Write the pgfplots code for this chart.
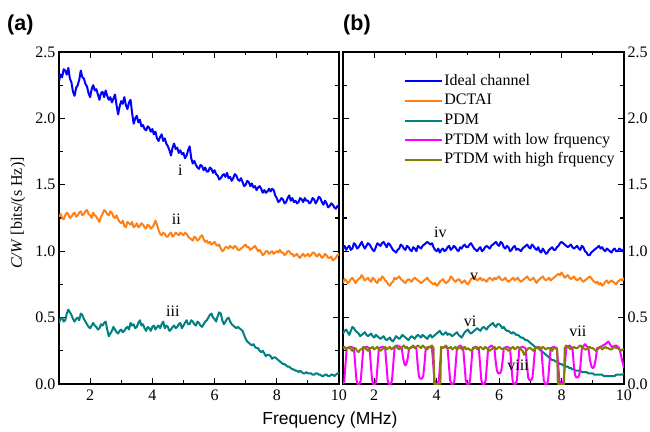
\documentclass[border=0pt]{standalone}
\usepackage{fontspec}
\setmainfont{Liberation Serif}
\newfontfamily\arial{Liberation Sans}
\usepackage{pgfplots}
\pgfplotsset{compat=1.18}

\definecolor{cblue}{RGB}{0,0,255}
\definecolor{corange}{RGB}{255,128,20}
\definecolor{cteal}{RGB}{0,128,128}
\definecolor{cpink}{RGB}{255,0,255}
\definecolor{colive}{RGB}{128,128,0}

\newcommand{\tf}{\rmfamily\fontsize{16}{19}\selectfont}

\pgfplotsset{
  panel/.style={
    scale only axis, height=332pt,
    xmin=1, xmax=10, ymin=0, ymax=2.5,
    xtick={2,4,6,8,10}, minor x tick num=1,
    ytick={0,0.5,1,1.5,2,2.5}, minor y tick num=1,
    tick align=inside, major tick length=6pt, minor tick length=3.5pt,
    axis line style={line width=1.5pt},
    every tick/.style={black, line width=1.2pt},
    tick label style={font=\tf},
    xticklabel={\rmfamily\pgfmathprintnumber[assume math mode=true]{\tick}},
    yticklabel={\rmfamily\pgfmathprintnumber[assume math mode=true,fixed,fixed zerofill,precision=1]{\tick}},
    xticklabel style={yshift=-2pt},
    every axis plot/.append style={line width=2pt, line join=round},
  },
}
\tikzset{lab/.style={anchor=base, font=\tf}}

\begin{document}
\begin{tikzpicture}
\path[use as bounding box] (0,0) rectangle (650pt,431pt);

% panel (a)
\begin{axis}[panel, at={(59pt,47pt)}, anchor=south west, width=280pt]
\addplot[cblue] coordinates {
(1.0,2.28) (1.05,2.33) (1.1,2.31) (1.15,2.37) (1.2,2.36) (1.25,2.33) (1.3,2.38) (1.35,2.30) (1.4,2.27) (1.45,2.20)
(1.5,2.17) (1.55,2.23) (1.6,2.25) (1.65,2.29) (1.7,2.36) (1.75,2.31) (1.8,2.30) (1.85,2.26) (1.9,2.24) (1.95,2.19)
(2.0,2.16) (2.05,2.22) (2.1,2.25) (2.15,2.21) (2.2,2.22) (2.25,2.18) (2.3,2.14) (2.35,2.19) (2.4,2.20) (2.45,2.16)
(2.5,2.21) (2.55,2.17) (2.6,2.14) (2.65,2.16) (2.7,2.12) (2.75,2.15) (2.8,2.18) (2.85,2.10) (2.9,2.03) (2.95,2.09)
(3.0,2.13) (3.05,2.11) (3.1,2.16) (3.15,2.10) (3.2,2.07) (3.25,2.12) (3.3,2.14) (3.35,2.04) (3.4,1.96) (3.45,2.00)
(3.5,2.02) (3.55,1.97) (3.6,1.99) (3.65,1.94) (3.7,1.95) (3.75,1.92) (3.8,1.91) (3.85,1.94) (3.9,1.93) (3.95,1.90)
(4.0,1.92) (4.05,1.88) (4.1,1.90) (4.15,1.85) (4.2,1.83) (4.25,1.86) (4.3,1.88) (4.35,1.83) (4.4,1.85) (4.45,1.81)
(4.5,1.79) (4.55,1.76) (4.6,1.72) (4.65,1.78) (4.7,1.81) (4.75,1.77) (4.8,1.78) (4.85,1.74) (4.9,1.76) (4.95,1.73)
(5.0,1.74) (5.05,1.70) (5.1,1.72) (5.15,1.76) (5.2,1.79) (5.25,1.70) (5.3,1.66) (5.35,1.68) (5.4,1.65) (5.45,1.63)
(5.5,1.62) (5.55,1.65) (5.6,1.64) (5.65,1.61) (5.7,1.63) (5.75,1.60) (5.8,1.60) (5.85,1.63) (5.9,1.62) (5.95,1.59)
(6.0,1.61) (6.05,1.58) (6.1,1.57) (6.15,1.54) (6.2,1.55) (6.25,1.57) (6.3,1.58) (6.35,1.56) (6.4,1.59) (6.45,1.55)
(6.5,1.56) (6.55,1.53) (6.6,1.55) (6.65,1.58) (6.7,1.57) (6.75,1.54) (6.8,1.53) (6.85,1.55) (6.9,1.52) (6.95,1.49)
(7.0,1.50) (7.05,1.53) (7.1,1.52) (7.15,1.49) (7.2,1.51) (7.25,1.48) (7.3,1.49) (7.35,1.46) (7.4,1.48) (7.45,1.49)
(7.5,1.47) (7.55,1.44) (7.6,1.46) (7.65,1.44) (7.7,1.45) (7.75,1.47) (7.8,1.45) (7.85,1.47) (7.9,1.46) (7.95,1.42)
(8.0,1.40) (8.05,1.37) (8.1,1.38) (8.15,1.40) (8.2,1.39) (8.25,1.36) (8.3,1.37) (8.35,1.40) (8.4,1.42) (8.45,1.38)
(8.5,1.40) (8.55,1.37) (8.6,1.38) (8.65,1.36) (8.7,1.37) (8.75,1.40) (8.8,1.39) (8.85,1.37) (8.9,1.40) (8.95,1.38)
(9.0,1.38) (9.05,1.36) (9.1,1.37) (9.15,1.40) (9.2,1.39) (9.25,1.36) (9.3,1.38) (9.35,1.41) (9.4,1.40) (9.45,1.37)
(9.5,1.35) (9.55,1.38) (9.6,1.36) (9.65,1.33) (9.7,1.34) (9.75,1.36) (9.8,1.35) (9.85,1.33) (9.9,1.32) (9.95,1.34) (10.0,1.33)
};
\addplot[corange] coordinates {
(1.0,1.26) (1.05,1.28) (1.1,1.25) (1.15,1.24) (1.2,1.27) (1.25,1.29) (1.3,1.28) (1.35,1.25) (1.4,1.26) (1.45,1.28)
(1.5,1.29) (1.55,1.26) (1.6,1.27) (1.65,1.29) (1.7,1.30) (1.75,1.27) (1.8,1.28) (1.85,1.30) (1.9,1.31) (1.95,1.28)
(2.0,1.27) (2.05,1.25) (2.1,1.29) (2.15,1.27) (2.2,1.26) (2.25,1.24) (2.3,1.22) (2.35,1.26) (2.4,1.28) (2.45,1.31)
(2.5,1.30) (2.55,1.28) (2.6,1.27) (2.65,1.30) (2.7,1.29) (2.75,1.26) (2.8,1.25) (2.85,1.27) (2.9,1.24) (2.95,1.22)
(3.0,1.21) (3.05,1.23) (3.1,1.19) (3.15,1.18) (3.2,1.22) (3.25,1.21) (3.3,1.20) (3.35,1.22) (3.4,1.18) (3.45,1.19)
(3.5,1.21) (3.55,1.18) (3.6,1.19) (3.65,1.21) (3.7,1.20) (3.75,1.18) (3.8,1.17) (3.85,1.20) (3.9,1.19) (3.95,1.17)
(4.0,1.18) (4.05,1.20) (4.1,1.23) (4.15,1.20) (4.2,1.16) (4.25,1.13) (4.3,1.12) (4.35,1.14) (4.4,1.13) (4.45,1.11)
(4.5,1.11) (4.55,1.13) (4.6,1.14) (4.65,1.11) (4.7,1.12) (4.75,1.14) (4.8,1.13) (4.85,1.12) (4.9,1.14) (4.95,1.13)
(5.0,1.12) (5.05,1.14) (5.1,1.13) (5.15,1.11) (5.2,1.10) (5.25,1.09) (5.3,1.08) (5.35,1.11) (5.4,1.10) (5.45,1.08)
(5.5,1.09) (5.55,1.11) (5.6,1.12) (5.65,1.09) (5.7,1.07) (5.75,1.08) (5.8,1.06) (5.85,1.07) (5.9,1.05) (5.95,1.06)
(6.0,1.07) (6.05,1.05) (6.1,1.04) (6.15,1.05) (6.2,1.02) (6.25,1.00) (6.3,1.01) (6.35,1.03) (6.4,1.03) (6.45,1.02)
(6.5,1.04) (6.55,1.03) (6.6,1.02) (6.65,1.04) (6.7,1.03) (6.75,1.01) (6.8,1.01) (6.85,1.02) (6.9,1.03) (6.95,1.04)
(7.0,1.05) (7.05,1.03) (7.1,1.03) (7.15,1.01) (7.2,1.02) (7.25,1.03) (7.3,1.04) (7.35,1.02) (7.4,1.00) (7.45,1.01)
(7.5,0.99) (7.55,0.97) (7.6,0.98) (7.65,1.00) (7.7,1.00) (7.75,0.98) (7.8,0.99) (7.85,1.00) (7.9,0.98) (7.95,0.99)
(8.0,1.00) (8.05,0.99) (8.1,1.01) (8.15,0.99) (8.2,0.99) (8.25,0.97) (8.3,0.98) (8.35,1.00) (8.4,1.00) (8.45,0.98)
(8.5,0.98) (8.55,0.96) (8.6,0.97) (8.65,0.98) (8.7,0.96) (8.75,0.95) (8.8,0.97) (8.85,0.98) (8.9,0.96) (8.95,0.97)
(9.0,0.98) (9.05,0.96) (9.1,0.97) (9.15,0.99) (9.2,0.99) (9.25,0.97) (9.3,0.96) (9.35,0.98) (9.4,0.97) (9.45,0.95)
(9.5,0.96) (9.55,0.98) (9.6,0.97) (9.65,0.95) (9.7,0.95) (9.75,0.96) (9.8,0.93) (9.85,0.94) (9.9,0.95) (9.95,0.97) (10.0,0.98)
};
\addplot[cteal] coordinates {
(1.0,0.46) (1.05,0.49) (1.1,0.50) (1.15,0.47) (1.2,0.48) (1.25,0.53) (1.3,0.56) (1.35,0.54) (1.4,0.52) (1.45,0.49)
(1.5,0.47) (1.55,0.49) (1.6,0.50) (1.65,0.48) (1.7,0.53) (1.75,0.52) (1.8,0.49) (1.85,0.47) (1.9,0.45) (1.95,0.43)
(2.0,0.42) (2.05,0.44) (2.1,0.46) (2.15,0.44) (2.2,0.43) (2.25,0.41) (2.3,0.42) (2.35,0.45) (2.4,0.44) (2.45,0.46)
(2.5,0.47) (2.55,0.41) (2.6,0.36) (2.65,0.38) (2.7,0.40) (2.75,0.43) (2.8,0.41) (2.85,0.39) (2.9,0.38) (2.95,0.40)
(3.0,0.41) (3.05,0.39) (3.1,0.40) (3.15,0.42) (3.2,0.43) (3.25,0.41) (3.3,0.46) (3.35,0.44) (3.4,0.45) (3.45,0.42)
(3.5,0.43) (3.55,0.46) (3.6,0.48) (3.65,0.44) (3.7,0.45) (3.75,0.42) (3.8,0.40) (3.85,0.43) (3.9,0.42) (3.95,0.40)
(4.0,0.43) (4.05,0.44) (4.1,0.41) (4.15,0.43) (4.2,0.44) (4.25,0.42) (4.3,0.45) (4.35,0.47) (4.4,0.42) (4.45,0.44)
(4.5,0.43) (4.55,0.40) (4.6,0.41) (4.65,0.43) (4.7,0.44) (4.75,0.42) (4.8,0.43) (4.85,0.45) (4.9,0.46) (4.95,0.42)
(5.0,0.44) (5.05,0.46) (5.1,0.48) (5.15,0.45) (5.2,0.45) (5.25,0.48) (5.3,0.47) (5.35,0.45) (5.4,0.44) (5.45,0.47)
(5.5,0.46) (5.55,0.44) (5.6,0.43) (5.65,0.45) (5.7,0.47) (5.75,0.48) (5.8,0.50) (5.85,0.52) (5.9,0.53) (5.95,0.50)
(6.0,0.49) (6.05,0.47) (6.1,0.51) (6.15,0.54) (6.2,0.53) (6.25,0.48) (6.3,0.45) (6.35,0.47) (6.4,0.49) (6.45,0.50)
(6.5,0.47) (6.55,0.45) (6.6,0.44) (6.65,0.43) (6.7,0.42) (6.75,0.43) (6.8,0.42) (6.85,0.41) (6.9,0.40) (6.95,0.37)
(7.0,0.34) (7.05,0.32) (7.1,0.31) (7.15,0.30) (7.2,0.29) (7.25,0.30) (7.3,0.28) (7.35,0.27) (7.4,0.27) (7.45,0.25)
(7.5,0.24) (7.55,0.25) (7.6,0.23) (7.65,0.21) (7.7,0.22) (7.75,0.22) (7.8,0.21) (7.85,0.19) (7.9,0.20) (7.95,0.20)
(8.0,0.19) (8.05,0.18) (8.1,0.17) (8.15,0.16) (8.2,0.15) (8.25,0.15) (8.3,0.14) (8.35,0.13) (8.4,0.13) (8.45,0.12)
(8.5,0.11) (8.55,0.11) (8.6,0.10) (8.65,0.10) (8.7,0.09) (8.75,0.10) (8.8,0.09) (8.85,0.08) (8.9,0.08) (8.95,0.09)
(9.0,0.08) (9.05,0.08) (9.1,0.08) (9.15,0.07) (9.2,0.07) (9.25,0.08) (9.3,0.08) (9.35,0.07) (9.4,0.07) (9.45,0.06)
(9.5,0.06) (9.55,0.07) (9.6,0.07) (9.65,0.06) (9.7,0.06) (9.75,0.07) (9.8,0.07) (9.85,0.06) (9.9,0.07) (9.95,0.08) (10.0,0.08)
};
\node[lab] at (axis cs:4.9,1.57) {i};
\node[lab] at (axis cs:4.77,1.20) {ii};
\node[lab] at (axis cs:4.66,0.505) {iii};
\end{axis}

% panel (b)
\begin{axis}[panel, at={(343pt,47pt)}, anchor=south west, width=281pt,
  yticklabel pos=right,
  legend style={at={(0.207,0.946)}, anchor=north west, draw=none, fill=none,
    font=\tf, row sep=1.7pt, nodes={inner sep=1pt, text height=12pt, text depth=4pt},
    /tikz/column 2/.style={column sep=4pt}},
  legend cell align=left,
  legend image code/.code={\draw[#1, line width=2pt] (0pt,0pt) -- (37pt,0pt);}]
\addplot[cblue] coordinates {
(1.0,1.02) (1.05,1.04) (1.1,1.01) (1.15,1.03) (1.2,1.04) (1.25,1.01) (1.3,1.02) (1.35,1.06) (1.4,1.05) (1.45,1.02)
(1.5,1.03) (1.55,1.05) (1.6,1.07) (1.65,1.04) (1.7,1.02) (1.75,1.04) (1.8,1.06) (1.85,1.05) (1.9,1.03) (1.95,1.01)
(2.0,1.00) (2.05,1.03) (2.1,1.06) (2.15,1.05) (2.2,1.04) (2.25,1.06) (2.3,1.07) (2.35,1.05) (2.4,1.03) (2.45,1.06)
(2.5,1.05) (2.55,1.03) (2.6,1.01) (2.65,1.00) (2.7,0.99) (2.75,1.01) (2.8,1.02) (2.85,1.05) (2.9,1.04) (2.95,1.02)
(3.0,1.01) (3.05,1.04) (3.1,1.03) (3.15,1.01) (3.2,1.00) (3.25,1.03) (3.3,1.02) (3.35,1.00) (3.4,1.04) (3.45,1.03)
(3.5,1.02) (3.55,1.04) (3.6,1.05) (3.65,1.06) (3.7,1.07) (3.75,1.06) (3.8,1.05) (3.85,1.06) (3.9,1.03) (3.95,1.01)
(4.0,1.00) (4.05,1.02) (4.1,0.99) (4.15,1.01) (4.2,1.02) (4.25,1.00) (4.3,1.01) (4.35,1.03) (4.4,1.04) (4.45,1.01)
(4.5,1.02) (4.55,1.04) (4.6,1.03) (4.65,1.01) (4.7,1.00) (4.75,1.03) (4.8,1.02) (4.85,1.04) (4.9,1.05) (4.95,1.03)
(5.0,1.03) (5.05,1.05) (5.1,1.06) (5.15,1.04) (5.2,1.02) (5.25,1.01) (5.3,1.00) (5.35,1.02) (5.4,1.03) (5.45,1.00)
(5.5,1.01) (5.55,1.03) (5.6,1.04) (5.65,1.03) (5.7,1.02) (5.75,1.04) (5.8,1.05) (5.85,1.06) (5.9,1.07) (5.95,1.05)
(6.0,1.04) (6.05,1.07) (6.1,1.06) (6.15,1.03) (6.2,1.02) (6.25,1.04) (6.3,1.03) (6.35,1.00) (6.4,1.01) (6.45,1.03)
(6.5,1.04) (6.55,1.01) (6.6,1.02) (6.65,1.01) (6.7,1.00) (6.75,1.02) (6.8,1.03) (6.85,1.04) (6.9,1.05) (6.95,1.03)
(7.0,1.02) (7.05,1.05) (7.1,1.04) (7.15,1.02) (7.2,1.01) (7.25,1.03) (7.3,1.00) (7.35,0.99) (7.4,1.02) (7.45,1.00)
(7.5,0.98) (7.55,0.99) (7.6,1.01) (7.65,1.02) (7.7,1.03) (7.75,1.01) (7.8,1.01) (7.85,1.03) (7.9,1.04) (7.95,1.06)
(8.0,1.07) (8.05,1.06) (8.1,1.05) (8.15,1.04) (8.2,1.03) (8.25,1.04) (8.3,1.05) (8.35,1.03) (8.4,1.02) (8.45,1.03)
(8.5,1.04) (8.55,1.02) (8.6,1.01) (8.65,1.04) (8.7,1.03) (8.75,1.00) (8.8,0.99) (8.85,0.97) (8.9,0.97) (8.95,0.99)
(9.0,1.00) (9.05,1.01) (9.1,1.02) (9.15,1.03) (9.2,1.04) (9.25,1.02) (9.3,1.03) (9.35,1.01) (9.4,1.00) (9.45,1.02)
(9.5,1.01) (9.55,1.00) (9.6,0.99) (9.65,1.01) (9.7,1.02) (9.75,1.00) (9.8,1.00) (9.85,1.02) (9.9,1.01) (9.95,1.00) (10.0,1.02)
};
\addlegendentry{Ideal channel}
\addplot[corange] coordinates {
(1.0,0.76) (1.05,0.79) (1.1,0.78) (1.15,0.76) (1.2,0.77) (1.25,0.79) (1.3,0.80) (1.35,0.78) (1.4,0.76) (1.45,0.78)
(1.5,0.79) (1.55,0.80) (1.6,0.82) (1.65,0.80) (1.7,0.78) (1.75,0.79) (1.8,0.80) (1.85,0.78) (1.9,0.77) (1.95,0.80)
(2.0,0.79) (2.05,0.77) (2.1,0.76) (2.15,0.79) (2.2,0.78) (2.25,0.81) (2.3,0.80) (2.35,0.78) (2.4,0.77) (2.45,0.75)
(2.5,0.74) (2.55,0.76) (2.6,0.77) (2.65,0.80) (2.7,0.79) (2.75,0.80) (2.8,0.81) (2.85,0.79) (2.9,0.78) (2.95,0.77)
(3.0,0.76) (3.05,0.78) (3.1,0.79) (3.15,0.78) (3.2,0.77) (3.25,0.79) (3.3,0.80) (3.35,0.79) (3.4,0.78) (3.45,0.77)
(3.5,0.76) (3.55,0.77) (3.6,0.78) (3.65,0.79) (3.7,0.80) (3.75,0.78) (3.8,0.77) (3.85,0.76) (3.9,0.75) (3.95,0.76)
(4.0,0.74) (4.05,0.75) (4.1,0.77) (4.15,0.78) (4.2,0.79) (4.25,0.77) (4.3,0.76) (4.35,0.77) (4.4,0.78) (4.45,0.81)
(4.5,0.80) (4.55,0.78) (4.6,0.77) (4.65,0.78) (4.7,0.79) (4.75,0.78) (4.8,0.76) (4.85,0.77) (4.9,0.78) (4.95,0.76)
(5.0,0.75) (5.05,0.77) (5.1,0.79) (5.15,0.80) (5.2,0.81) (5.25,0.79) (5.3,0.78) (5.35,0.79) (5.4,0.80) (5.45,0.78)
(5.5,0.79) (5.55,0.78) (5.6,0.77) (5.65,0.79) (5.7,0.80) (5.75,0.79) (5.8,0.78) (5.85,0.80) (5.9,0.79) (5.95,0.80)
(6.0,0.81) (6.05,0.79) (6.1,0.78) (6.15,0.79) (6.2,0.80) (6.25,0.78) (6.3,0.77) (6.35,0.78) (6.4,0.79) (6.45,0.80)
(6.5,0.78) (6.55,0.79) (6.6,0.80) (6.65,0.78) (6.7,0.77) (6.75,0.78) (6.8,0.79) (6.85,0.80) (6.9,0.81) (6.95,0.79)
(7.0,0.78) (7.05,0.79) (7.1,0.80) (7.15,0.78) (7.2,0.76) (7.25,0.78) (7.3,0.79) (7.35,0.80) (7.4,0.81) (7.45,0.79)
(7.5,0.78) (7.55,0.79) (7.6,0.80) (7.65,0.78) (7.7,0.79) (7.75,0.80) (7.8,0.81) (7.85,0.82) (7.9,0.83) (7.95,0.82)
(8.0,0.84) (8.05,0.82) (8.1,0.80) (8.15,0.81) (8.2,0.82) (8.25,0.80) (8.3,0.79) (8.35,0.80) (8.4,0.81) (8.45,0.79)
(8.5,0.78) (8.55,0.79) (8.6,0.80) (8.65,0.78) (8.7,0.77) (8.75,0.78) (8.8,0.79) (8.85,0.80) (8.9,0.81) (8.95,0.80)
(9.0,0.78) (9.05,0.77) (9.1,0.76) (9.15,0.77) (9.2,0.75) (9.25,0.76) (9.3,0.74) (9.35,0.75) (9.4,0.77) (9.45,0.78)
(9.5,0.76) (9.55,0.77) (9.6,0.78) (9.65,0.77) (9.7,0.76) (9.75,0.75) (9.8,0.77) (9.85,0.78) (9.9,0.79) (9.95,0.78) (10.0,0.80)
};
\addlegendentry{DCTAI}
\addplot[cteal] coordinates {
(1.0,0.38) (1.05,0.40) (1.1,0.41) (1.15,0.39) (1.2,0.37) (1.25,0.40) (1.3,0.43) (1.35,0.42) (1.4,0.40) (1.45,0.39)
(1.5,0.38) (1.55,0.36) (1.6,0.37) (1.65,0.38) (1.7,0.39) (1.75,0.37) (1.8,0.36) (1.85,0.37) (1.9,0.38) (1.95,0.36)
(2.0,0.35) (2.05,0.37) (2.1,0.36) (2.15,0.35) (2.2,0.34) (2.25,0.35) (2.3,0.36) (2.35,0.34) (2.4,0.33) (2.45,0.34)
(2.5,0.35) (2.55,0.33) (2.6,0.32) (2.65,0.34) (2.7,0.36) (2.75,0.35) (2.8,0.34) (2.85,0.35) (2.9,0.37) (2.95,0.36)
(3.0,0.35) (3.05,0.34) (3.1,0.33) (3.15,0.35) (3.2,0.36) (3.25,0.35) (3.3,0.34) (3.35,0.36) (3.4,0.37) (3.45,0.36)
(3.5,0.35) (3.55,0.37) (3.6,0.36) (3.65,0.35) (3.7,0.34) (3.75,0.36) (3.8,0.37) (3.85,0.35) (3.9,0.36) (3.95,0.37)
(4.0,0.38) (4.05,0.39) (4.1,0.40) (4.15,0.38) (4.2,0.37) (4.25,0.38) (4.3,0.39) (4.35,0.37) (4.4,0.38) (4.45,0.37)
(4.5,0.36) (4.55,0.37) (4.6,0.38) (4.65,0.39) (4.7,0.37) (4.75,0.36) (4.8,0.35) (4.85,0.37) (4.9,0.39) (4.95,0.40)
(5.0,0.41) (5.05,0.39) (5.1,0.38) (5.15,0.39) (5.2,0.40) (5.25,0.41) (5.3,0.42) (5.35,0.41) (5.4,0.40) (5.45,0.42)
(5.5,0.43) (5.55,0.42) (5.6,0.41) (5.65,0.43) (5.7,0.44) (5.75,0.45) (5.8,0.46) (5.85,0.44) (5.9,0.43) (5.95,0.45)
(6.0,0.45) (6.05,0.44) (6.1,0.42) (6.15,0.43) (6.2,0.41) (6.25,0.40) (6.3,0.40) (6.35,0.39) (6.4,0.38) (6.45,0.39)
(6.5,0.38) (6.55,0.37) (6.6,0.37) (6.65,0.36) (6.7,0.35) (6.75,0.35) (6.8,0.34) (6.85,0.33) (6.9,0.33) (6.95,0.32)
(7.0,0.31) (7.05,0.30) (7.1,0.29) (7.15,0.28) (7.2,0.27) (7.25,0.27) (7.3,0.26) (7.35,0.25) (7.4,0.24) (7.45,0.23)
(7.5,0.22) (7.55,0.21) (7.6,0.20) (7.65,0.19) (7.7,0.18) (7.75,0.18) (7.8,0.17) (7.85,0.17) (7.9,0.16) (7.95,0.15)
(8.0,0.15) (8.05,0.14) (8.1,0.14) (8.15,0.13) (8.2,0.13) (8.25,0.12) (8.3,0.12) (8.35,0.11) (8.4,0.11) (8.45,0.10)
(8.5,0.10) (8.55,0.10) (8.6,0.10) (8.65,0.09) (8.7,0.09) (8.75,0.09) (8.8,0.09) (8.85,0.08) (8.9,0.08) (8.95,0.08)
(9.0,0.08) (9.05,0.07) (9.1,0.07) (9.15,0.07) (9.2,0.07) (9.25,0.07) (9.3,0.07) (9.35,0.06) (9.4,0.06) (9.45,0.06)
(9.5,0.06) (9.55,0.06) (9.6,0.06) (9.65,0.06) (9.7,0.06) (9.75,0.07) (9.8,0.07) (9.85,0.07) (9.9,0.07) (9.95,0.07) (10.0,0.08)
};
\addlegendentry{PDM}
\addplot[cpink] coordinates {
(1.00,0.00) (1.04,0.02) (1.08,0.15) (1.12,0.27) (1.25,0.28)
(1.35,0.27) (1.39,0.15) (1.43,0.03) (1.47,0) (1.53,0) (1.57,0.03) (1.61,0.15) (1.65,0.27) (1.75,0.28)
(1.85,0.27) (1.89,0.15) (1.93,0.03) (1.97,0) (2.03,0) (2.07,0.03) (2.11,0.15) (2.15,0.27) (2.25,0.28)
(2.35,0.27) (2.39,0.15) (2.43,0.03) (2.47,0) (2.53,0) (2.57,0.03) (2.61,0.15) (2.65,0.27) (2.75,0.29)
(2.88,0.27) (2.93,0.19) (2.97,0.15) (3.00,0.14) (3.03,0.15) (3.07,0.19) (3.12,0.27) (3.25,0.28)
(3.35,0.27) (3.39,0.15) (3.43,0.06) (3.47,0.04) (3.53,0.04) (3.57,0.06) (3.61,0.15) (3.65,0.27) (3.75,0.28)
(3.85,0.27) (3.89,0.15) (3.93,0.03) (3.97,0) (4.03,0) (4.07,0.03) (4.11,0.15) (4.15,0.27) (4.25,0.28)
(4.35,0.27) (4.39,0.15) (4.43,0.03) (4.47,0) (4.53,0) (4.57,0.03) (4.61,0.15) (4.65,0.27) (4.75,0.29)
(4.85,0.27) (4.89,0.15) (4.93,0.03) (4.97,0) (5.03,0) (5.07,0.03) (5.11,0.15) (5.15,0.27) (5.25,0.28)
(5.35,0.27) (5.39,0.15) (5.43,0.03) (5.47,0) (5.53,0) (5.57,0.03) (5.61,0.15) (5.65,0.27) (5.75,0.29)
(5.85,0.27) (5.89,0.17) (5.93,0.10) (5.97,0.08) (6.03,0.08) (6.07,0.10) (6.11,0.17) (6.15,0.27) (6.25,0.28)
(6.35,0.27) (6.39,0.15) (6.43,0.03) (6.47,0) (6.53,0) (6.57,0.03) (6.61,0.15) (6.65,0.27) (6.75,0.28)
(6.85,0.27) (6.89,0.15) (6.93,0.05) (6.97,0.03) (7.03,0.03) (7.07,0.05) (7.11,0.15) (7.15,0.27) (7.25,0.28)
(7.35,0.27) (7.39,0.15) (7.43,0.03) (7.47,0) (7.53,0) (7.57,0.03) (7.61,0.15) (7.65,0.27) (7.75,0.28)
(7.85,0.27) (7.89,0.15) (7.93,0.03) (7.97,0) (8.03,0) (8.07,0.03) (8.11,0.15) (8.15,0.27) (8.25,0.29)
(8.35,0.27) (8.39,0.15) (8.43,0.07) (8.47,0.05) (8.53,0.05) (8.57,0.07) (8.61,0.15) (8.65,0.27) (8.75,0.30)
(8.86,0.27) (8.91,0.18) (8.96,0.13) (9.00,0.12) (9.04,0.13) (9.09,0.18) (9.14,0.27) (9.25,0.28)
(9.40,0.30) (9.50,0.32) (9.60,0.28) (9.75,0.29) (9.85,0.27) (9.92,0.20) (10.00,0.12)
};
\addlegendentry{PTDM with low frquency}
\addplot[colive] coordinates {
(1.0,0.27) (1.05,0.28) (1.1,0.26) (1.15,0.27) (1.2,0.28) (1.25,0.26) (1.3,0.25) (1.35,0.27) (1.4,0.27) (1.45,0.25)
(1.5,0.24) (1.55,0.26) (1.6,0.26) (1.65,0.28) (1.7,0.27) (1.75,0.26) (1.8,0.25) (1.85,0.27) (1.9,0.27) (1.95,0.28)
(2.0,0.26) (2.05,0.27) (2.1,0.28) (2.15,0.26) (2.2,0.25) (2.25,0.26) (2.3,0.27) (2.35,0.28) (2.4,0.26) (2.45,0.27)
(2.5,0.28) (2.55,0.26) (2.6,0.27) (2.65,0.28) (2.7,0.29) (2.75,0.27) (2.8,0.26) (2.85,0.27) (2.9,0.28) (2.95,0.29)
(3.0,0.27) (3.05,0.28) (3.1,0.26) (3.15,0.27) (3.2,0.28) (3.25,0.29) (3.3,0.27) (3.35,0.28) (3.4,0.29) (3.45,0.28)
(3.5,0.27) (3.55,0.29) (3.6,0.28) (3.65,0.27) (3.7,0.26) (3.75,0.28) (3.8,0.28) (3.85,0.29) (3.9,0.27)
(3.92,0.0) (4.12,0.0) (4.14,0.28) (4.2,0.27) (4.25,0.28) (4.3,0.29) (4.35,0.27) (4.4,0.27) (4.45,0.28)
(4.5,0.26) (4.55,0.27) (4.6,0.28) (4.65,0.26) (4.7,0.27) (4.75,0.28) (4.8,0.26) (4.85,0.27) (4.9,0.28) (4.95,0.26)
(5.0,0.27) (5.05,0.26) (5.1,0.25) (5.15,0.26) (5.2,0.27) (5.25,0.28) (5.3,0.26) (5.35,0.27) (5.4,0.28) (5.45,0.27)
(5.5,0.26) (5.55,0.28) (5.6,0.27) (5.65,0.26) (5.7,0.25) (5.75,0.26) (5.8,0.27) (5.85,0.28) (5.9,0.26) (5.95,0.27)
(6.0,0.28) (6.05,0.27) (6.1,0.26) (6.15,0.27) (6.2,0.27) (6.25,0.26) (6.3,0.25) (6.35,0.26) (6.4,0.27) (6.45,0.28)
(6.5,0.26) (6.55,0.27) (6.6,0.28) (6.65,0.27) (6.7,0.26) (6.75,0.25) (6.8,0.22) (6.85,0.24) (6.9,0.26) (6.95,0.27)
(7.0,0.27) (7.05,0.26) (7.1,0.25) (7.15,0.27) (7.2,0.27) (7.25,0.28) (7.3,0.26) (7.35,0.27) (7.4,0.28) (7.45,0.27)
(7.5,0.26) (7.55,0.27) (7.6,0.27) (7.65,0.26) (7.7,0.25) (7.75,0.27) (7.8,0.27) (7.86,0.26)
(7.88,0.0) (8.08,0.0) (8.1,0.27) (8.15,0.29) (8.2,0.28) (8.25,0.27) (8.3,0.26) (8.35,0.27) (8.4,0.28) (8.45,0.27)
(8.5,0.27) (8.55,0.28) (8.6,0.29) (8.65,0.28) (8.7,0.27) (8.75,0.26) (8.8,0.26) (8.85,0.27) (8.9,0.28) (8.95,0.27)
(9.0,0.27) (9.05,0.26) (9.1,0.25) (9.15,0.26) (9.2,0.27) (9.25,0.28) (9.3,0.26) (9.35,0.27) (9.4,0.28) (9.45,0.27)
(9.5,0.27) (9.55,0.26) (9.6,0.26) (9.65,0.27) (9.7,0.28) (9.75,0.27) (9.8,0.27) (9.85,0.26) (9.9,0.25) (9.95,0.26) (10.0,0.26)
};
\addlegendentry{PTDM with high frquency}
\node[lab] at (axis cs:4.12,1.10) {iv};
\node[lab] at (axis cs:5.2,0.783) {v};
\node[lab] at (axis cs:5.07,0.43) {vi};
\node[lab] at (axis cs:8.52,0.356) {vii};
\node[lab] at (axis cs:6.61,0.105) {viii};
\end{axis}

\node[rotate=90, font=\tf] at (18pt,218pt) {\textit{C/W} [bits/(s Hz)]};
\node[anchor=base, font=\arial\fontsize{17.5}{20}\selectfont] at (330pt,7pt) {Frequency (MHz)};
\node[anchor=base west, inner sep=0pt, font=\arial\bfseries\fontsize{21.5}{24}\selectfont] at (7pt,400pt) {(a)};
\node[anchor=base west, inner sep=0pt, font=\arial\bfseries\fontsize{21.5}{24}\selectfont] at (343pt,400pt) {(b)};
\end{tikzpicture}
\end{document}
